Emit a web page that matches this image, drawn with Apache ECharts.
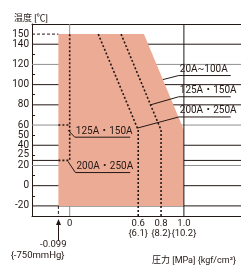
<!DOCTYPE html>
<html>
<head>
<meta charset="utf-8">
<script src="https://cdn.jsdelivr.net/npm/echarts@6/dist/echarts.min.js"></script>
<style>
html, body { margin: 0; padding: 0; background: #fff; }
#chart { width: 241px; height: 266px; }
</style>
</head>
<body>
<div id="chart"></div>
<script>
// axis ranges
const xMin = -0.33, xMax = 1.5;
const yMin = -30, yMax = 160;

// tick labels
const yTickValues = [150, 140, 120, 100, 80, 60, 50, 40, 25, 20, 0, -20];
const yMinorTicks = [130, 110, 90, 70, 50, 30, 10, -10];
const xTickValues = [0, 0.6, 0.8, 1.0];
const xTickLabels = ['0', '0.6\n{6.1}', '0.8\n{8.2}', '1.0\n{10.2}'];

// grid lines
const darkLines = [140, 100, 80, 40, 25, 0, -20];
const grayLines = [120, 60, 20];

// pressure [MPa], temperature [C]
const vacuumLimit = -0.099;
const maxPressure = 1.0;
const rangeArea = [[-0.099, 150], [0.65, 150], [1.0, 55], [1.0, -20], [-0.099, -20]];
const limit125_150 = [[0.45, 150], [0.8, 55], [0.8, -30]];
const limit200_250 = [[0.25, 150], [0.6, 55], [0.6, -30]];
const vacuum125_150 = [[-0.099, 60], [0, 60], [0, 150]];
const vacuum200_250 = [[-0.099, 25], [0, 25], [0, 60]];

// size labels: text, pointer x/y, underline from x, to x, at y
const labelTexts = ['20A~100A', '125A・150A', '200A・250A', '125A・150A', '200A・250A'];
const labelPoints = [[0.816, 105], [0.708, 80], [0.593, 57], [-0.015, 55], [-0.015, 24]];
const labelLines = [[0.955, 1.41, 109], [0.955, 1.41, 88], [0.955, 1.41, 68], [0.045, 0.53, 48], [0.05, 0.53, 13]];

const dark = '#231815';
const gray = '#8f8f8f';
const pink = '#ecab94';
const font = 'Roboto, "Noto Sans CJK JP", sans-serif';

const chart = echarts.init(document.getElementById('chart'));

function hLineSeries(values, color, z) {
    return {
        type: 'custom',
        z: z,
        silent: true,
        data: values.map(v => [0, v]),
        renderItem: function (params, api) {
            const y = api.coord([0, api.value(1)])[1];
            const cs = params.coordSys;
            return {
                type: 'line',
                shape: {x1: cs.x, y1: y, x2: cs.x + cs.width, y2: y},
                style: {stroke: color, lineWidth: 1}
            };
        }
    };
}

function segment(data, color, type, z) {
    return {
        type: 'line',
        z: z,
        silent: true,
        symbol: 'none',
        data: data,
        lineStyle: {color: color, width: 1, type: type}
    };
}

function dotted(data) {
    return {
        type: 'line',
        z: 5,
        silent: true,
        symbol: 'none',
        data: data,
        lineStyle: {color: dark, width: 1.6, type: [2, 2]}
    };
}

var option = {
    animation: false,
    title: [
        {text: '温度 [℃]', left: 9, top: 9, textStyle: {fontSize: 9, fontWeight: 'normal', color: dark, fontFamily: font}},
        {text: '圧力 [MPa] {kgf/cm²}', right: 0, top: 251, textStyle: {fontSize: 9, fontWeight: 'normal', color: dark, fontFamily: font}}
    ],
    grid: {left: 32, right: -2, top: 24, bottom: 50},
    xAxis: [
        {
            type: 'value', min: xMin, max: xMax,
            axisLine: {show: true, onZero: false, lineStyle: {color: dark, width: 1}},
            axisTick: {show: false},
            splitLine: {show: false},
            axisLabel: {
                customValues: xTickValues,
                hideOverlap: false,
                margin: 3,
                color: dark,
                fontSize: 9.5,
                lineHeight: 10,
                fontFamily: font,
                formatter: v => xTickLabels[xTickValues.indexOf(v)]
            }
        },
        {
            type: 'value', min: xMin, max: xMax, position: 'top',
            axisLine: {show: true, onZero: false, lineStyle: {color: dark, width: 1}},
            axisTick: {show: false}, axisLabel: {show: false}, splitLine: {show: false}
        }
    ],
    yAxis: [
        {
            type: 'value', min: yMin, max: yMax,
            axisLine: {show: true, onZero: false, lineStyle: {color: dark, width: 1}},
            axisTick: {show: true, inside: true, length: 3, customValues: yMinorTicks, lineStyle: {color: dark}},
            splitLine: {show: false},
            axisLabel: {
                customValues: yTickValues,
                hideOverlap: false,
                margin: 3,
                color: dark,
                fontSize: 10,
                fontFamily: font,
                formatter: v => v === 25 ? '{up|25}' : String(v),
                rich: {up: {fontSize: 10, fontFamily: font, color: dark, padding: [0, 0, 11, 0]}}
            }
        },
        {
            type: 'value', min: yMin, max: yMax, position: 'right',
            axisLine: {show: false},
            axisTick: {show: true, inside: true, length: 5, customValues: yMinorTicks, lineStyle: {color: dark}},
            axisLabel: {show: false},
            splitLine: {show: false}
        }
    ],
    series: [
        hLineSeries(grayLines, gray, 1),
        hLineSeries(darkLines, dark, 1),
        segment([[0, yMin], [0, yMax]], gray, 'solid', 1),
        {
            type: 'custom',
            z: 2,
            silent: true,
            data: [[0, 0]],
            renderItem: function (params, api) {
                return {
                    type: 'polygon',
                    shape: {points: rangeArea.map(p => api.coord(p))},
                    style: {fill: pink}
                };
            }
        },
        segment([[maxPressure, yMin], [maxPressure, yMax]], dark, 'solid', 3),
        segment([[xMin, 150], [vacuumLimit, 150]], dark, [3, 2], 3),
        segment([[vacuumLimit, -20], [vacuumLimit, yMin]], dark, [3, 2], 3),
        dotted(limit125_150),
        dotted(limit200_250),
        dotted(vacuum125_150),
        dotted(vacuum200_250),
        {
            type: 'custom',
            z: 6,
            silent: true,
            data: labelTexts.map((t, i) => [labelLines[i][0], labelLines[i][2]]),
            renderItem: function (params, api) {
                const i = params.dataIndex;
                const p = api.coord(labelPoints[i]);
                const a = api.coord([labelLines[i][0], labelLines[i][2]]);
                const b = api.coord([labelLines[i][1], labelLines[i][2]]);
                return {
                    type: 'group',
                    children: [
                        {type: 'polyline', shape: {points: [p, a, b]}, style: {stroke: dark, lineWidth: 1, fill: null}},
                        {
                            type: 'text',
                            style: {
                                text: labelTexts[i], x: a[0] + 1, y: a[1] - 1,
                                fill: dark, font: '10px ' + font,
                                textAlign: 'left', textVerticalAlign: 'bottom',
                                align: 'left', verticalAlign: 'bottom'
                            }
                        }
                    ]
                };
            }
        },
        {
            type: 'custom',
            z: 6,
            silent: true,
            data: [[vacuumLimit, yMin]],
            renderItem: function (params, api) {
                const p = api.coord([vacuumLimit, yMin]);
                const x = Math.round(p[0]) + 0.5;
                return {
                    type: 'group',
                    children: [
                        {type: 'line', shape: {x1: x, y1: p[1] + 25, x2: x, y2: p[1] + 8}, style: {stroke: dark, lineWidth: 1}},
                        {type: 'polygon', shape: {points: [[x, p[1] + 3], [x - 2.5, p[1] + 9], [x + 2.5, p[1] + 9]]}, style: {fill: dark}},
                        {
                            type: 'text',
                            style: {
                                text: '-0.099', x: x + 8, y: p[1] + 29, fill: dark, font: '9.5px ' + font,
                                textAlign: 'right', textVerticalAlign: 'middle', align: 'right', verticalAlign: 'middle'
                            }
                        },
                        {
                            type: 'text',
                            style: {
                                text: '{-750mmHg}', x: x + 6, y: p[1] + 40, fill: dark, font: '9.5px ' + font,
                                textAlign: 'right', textVerticalAlign: 'middle', align: 'right', verticalAlign: 'middle'
                            }
                        }
                    ]
                };
            }
        }
    ]
};

chart.setOption(option);
window.addEventListener('resize', function () {
    chart.resize();
});
</script>
</body>
</html>
